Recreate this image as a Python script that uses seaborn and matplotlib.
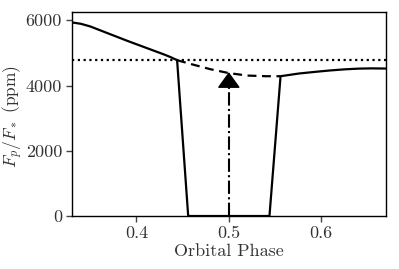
import numpy as np
import pandas as pd
import matplotlib
matplotlib.use("Agg")
import matplotlib.pyplot as plt
import seaborn as sns

# phase curve outside/through eclipse (solid)
phase_obs = [0.33, 0.34, 0.35, 0.36, 0.37, 0.38, 0.39, 0.40, 0.41, 0.42, 0.43, 0.437,
             0.444, 0.456, 0.544, 0.556, 0.576, 0.594, 0.609, 0.625, 0.641, 0.655, 0.67]
flux_obs = [5935, 5890, 5810, 5700, 5590, 5480, 5370, 5265, 5160, 5055, 4950, 4870,
            4776, 0, 0, 4285, 4368, 4420, 4460, 4495, 4518, 4525, 4520]

# planet flux hidden during eclipse (dashed)
phase_hidden = [0.444, 0.46, 0.48, 0.50, 0.52, 0.54, 0.556]
flux_hidden = [4776, 4650, 4500, 4380, 4305, 4285, 4285]

# reference level (dotted)
ref_level = 4770
x_range = [0.33, 0.67]

# arrow at mid eclipse
arrow_x = 0.5
arrow_base = 0
arrow_tip = 4410

sns.set_style("ticks")
plt.rcParams["font.family"] = ["cmr10", "DejaVu Serif"]
plt.rcParams["mathtext.fontset"] = "cm"
plt.rcParams["axes.formatter.use_mathtext"] = True

fig, ax = plt.subplots(figsize=(3.99, 2.69), dpi=100)

obs = pd.DataFrame({"phase": phase_obs, "flux": flux_obs})
hid = pd.DataFrame({"phase": phase_hidden, "flux": flux_hidden})

sns.lineplot(data=obs, x="phase", y="flux", color="k", lw=1.6, ax=ax, sort=False)
sns.lineplot(data=hid, x="phase", y="flux", color="k", lw=1.6, ax=ax,
             linestyle=(0, (4, 2.5)))
ax.plot(x_range, [ref_level, ref_level], color="k", lw=1.6, linestyle=(0, (1, 1.6)))

head_len = 430
ax.plot([arrow_x, arrow_x], [arrow_base, arrow_tip - head_len], color="k", lw=1.5,
        linestyle="-.")
ax.annotate("", xy=(arrow_x, arrow_tip), xytext=(arrow_x, arrow_tip - head_len),
            arrowprops=dict(arrowstyle="-|>,head_width=0.36,head_length=0.5",
                            color="k", lw=1, mutation_scale=20, shrinkA=0, shrinkB=0))

ax.set_xlim(0.33, 0.67)
ax.set_ylim(0, 6250)
ax.set_xticks([0.4, 0.5, 0.6])
ax.set_xticklabels(["0.4", "0.5", "0.6"])
ax.set_yticks([0, 2000, 4000, 6000])
ax.set_yticklabels(["0", "2000", "4000", "6000"])
ax.tick_params(labelsize=13, length=4, width=1, color="#444444", labelcolor="#333333",
               pad=3)
ax.set_xlabel("Orbital Phase", fontsize=13, color="#333333", labelpad=2)
ax.set_ylabel(r"$F_p/F_*$ (ppm)", fontsize=12.5, color="#333333")
ax.yaxis.set_label_coords(-0.148, 0.49)
for s in ax.spines.values():
    s.set_color("k")
    s.set_linewidth(1.0)

fig.subplots_adjust(left=0.18, right=0.967, top=0.955, bottom=0.197)
fig.savefig("out.png", dpi=100)
